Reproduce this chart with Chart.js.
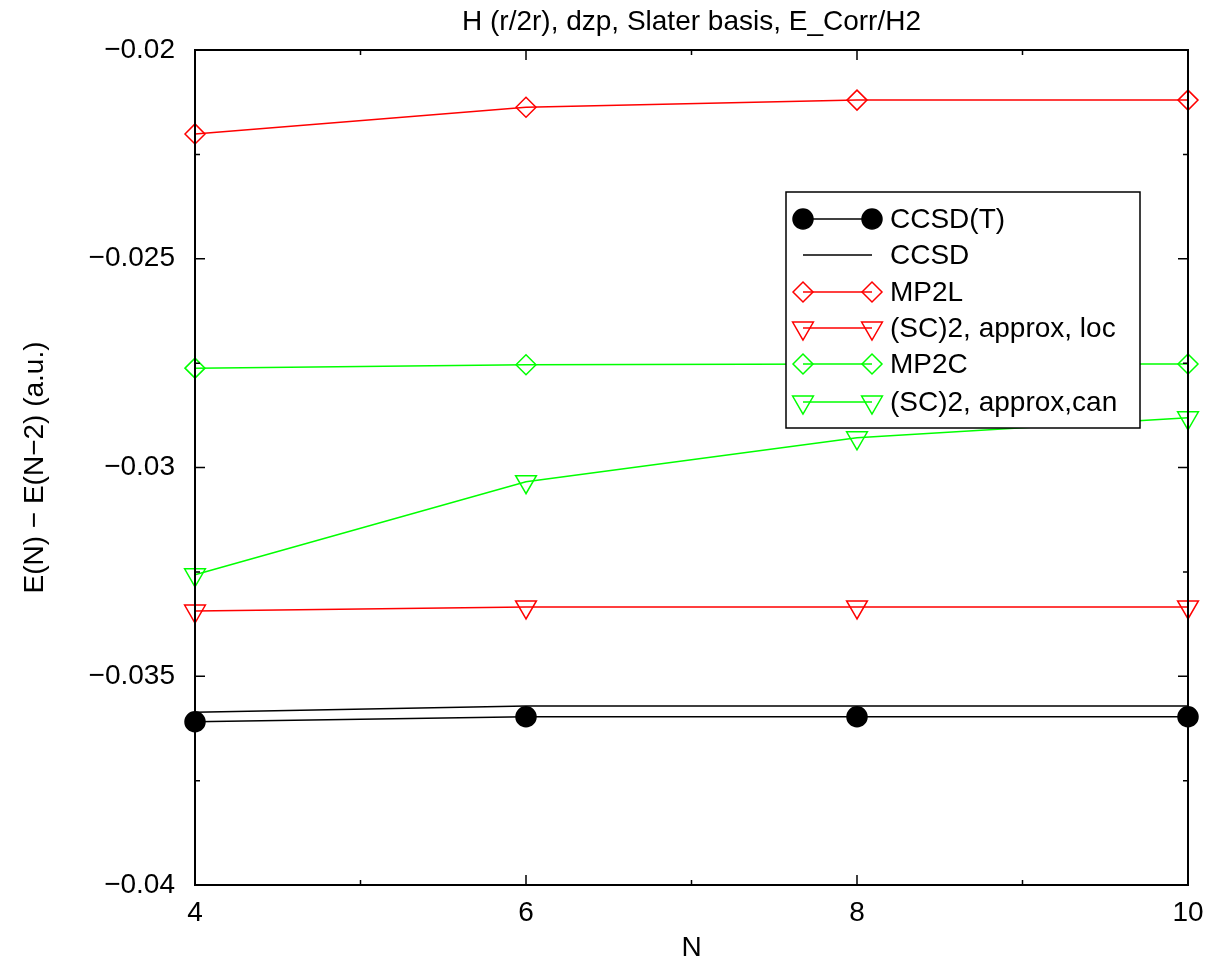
<!DOCTYPE html>
<html>
<head>
<meta charset="utf-8">
<title>H (r/2r), dzp, Slater basis, E_Corr/H2</title>
<script src="https://cdn.jsdelivr.net/npm/chart.js@4.4.1/dist/chart.umd.min.js"></script>
<style>
    html, body { margin: 0; padding: 0; background: #ffffff; }
    #energy-chart { display: block; }
</style>
</head>
<body>
<canvas id="energy-chart" width="1206" height="966"></canvas>
<script>
const n_values = [4, 6, 8, 10];

const ccsd_t   = [-0.03609, -0.03597, -0.03597, -0.03597];
const ccsd     = [-0.03586, -0.03571, -0.03571, -0.03571];
const mp2l     = [-0.02201, -0.02137, -0.02120, -0.02120];
const sc2_loc  = [-0.03344, -0.03334, -0.03334, -0.03334];
const mp2c     = [-0.02762, -0.02754, -0.02752, -0.02752];
const sc2_can  = [-0.03257, -0.03034, -0.02929, -0.02881];

const y_major_ticks = [-0.04, -0.035, -0.03, -0.025, -0.02];
const y_minor_ticks = [-0.0375, -0.0325, -0.0275, -0.0225];
const x_major_ticks = [4, 6, 8, 10];
const x_minor_ticks = [5, 7, 9];

const FONT = 'Liberation Sans, Arial, Helvetica, sans-serif';
const FONT_SIZE = 28;
const canvas = document.getElementById('energy-chart');


function to_points(values) {
    return values.map((v, i) => {
        return { x: n_values[i], y: v };
    });
}

function make_dataset(label, values, color, style, rotation, filled, radius) {
    return {
        label: label,
        data: to_points(values),
        borderColor: color,
        backgroundColor: color,
        borderWidth: 1.5,
        pointStyle: style,
        pointRotation: rotation,
        pointRadius: radius,
        pointBorderColor: color,
        pointBackgroundColor: filled ? color : 'rgba(0,0,0,0)',
        pointBorderWidth: 1.5,
        showLine: true,
        clip: false
    };
}

function format_minus(value) {
    let s = String(parseFloat(Number(value).toFixed(4)));
    return s.replace('-', '\u2212');
}


// gnuplot-like frame: box with inward ticks on all four sides, plus the boxed key
const frame_plugin = {
    id: 'frame',
    afterDatasetsDraw(chart) {
        const ctx = chart.ctx;
        const area = chart.chartArea;
        const xs = chart.scales.x;
        const ys = chart.scales.y;

        ctx.save();
        ctx.strokeStyle = '#000000';
        ctx.lineWidth = 1.5;

        x_major_ticks.concat(x_minor_ticks).forEach(t => {
            const len = x_major_ticks.includes(t) ? 10 : 5;
            const px = xs.getPixelForValue(t);
            ctx.beginPath();
            ctx.moveTo(px, area.bottom);
            ctx.lineTo(px, area.bottom - len);
            ctx.moveTo(px, area.top);
            ctx.lineTo(px, area.top + len);
            ctx.stroke();
        });

        y_major_ticks.concat(y_minor_ticks).forEach(t => {
            const len = y_major_ticks.includes(t) ? 10 : 5;
            const py = ys.getPixelForValue(t);
            ctx.beginPath();
            ctx.moveTo(area.left, py);
            ctx.lineTo(area.left + len, py);
            ctx.moveTo(area.right, py);
            ctx.lineTo(area.right - len, py);
            ctx.stroke();
        });

        ctx.lineWidth = 2;
        ctx.strokeRect(area.left, area.top, area.right - area.left, area.bottom - area.top);

        // key box
        const box_left = 786, box_top = 192, box_right = 1140, box_bottom = 428;
        ctx.fillStyle = '#ffffff';
        ctx.fillRect(box_left, box_top, box_right - box_left, box_bottom - box_top);
        ctx.lineWidth = 1.5;
        ctx.strokeStyle = '#000000';
        ctx.strokeRect(box_left, box_top, box_right - box_left, box_bottom - box_top);

        const row_y = [219, 255, 292, 328, 364, 402];
        const x0 = 803, x1 = 872;
        chart.data.datasets.forEach((ds, i) => {
            const y = row_y[i];
            ctx.strokeStyle = ds.borderColor;
            ctx.lineWidth = 1.5;
            ctx.beginPath();
            ctx.moveTo(x0, y);
            ctx.lineTo(x1, y);
            ctx.stroke();

            if (ds.pointRadius > 0) {
                const opts = {
                    pointStyle: ds.pointStyle,
                    radius: ds.pointRadius,
                    rotation: ds.pointRotation,
                    borderWidth: ds.pointBorderWidth
                };
                ctx.fillStyle = ds.pointBackgroundColor;
                ctx.strokeStyle = ds.pointBorderColor;
                Chart.helpers.drawPoint(ctx, opts, x0, y);
                Chart.helpers.drawPoint(ctx, opts, x1, y);
            }

            ctx.fillStyle = '#000000';
            ctx.font = FONT_SIZE + 'px ' + FONT;
            ctx.textAlign = 'left';
            ctx.textBaseline = 'middle';
            ctx.fillText(ds.label, 890, y + 1);
        });

        ctx.restore();
    }
};


const chart_datasets = [
    make_dataset('CCSD(T)', ccsd_t, '#000000', 'circle', 0, true, 10),
    make_dataset('CCSD', ccsd, '#000000', 'circle', 0, true, 0),
    make_dataset('MP2L', mp2l, '#ff0000', 'rectRot', 0, false, 10),
    make_dataset('(SC)2, approx, loc', sc2_loc, '#ff0000', 'triangle', 180, false, 12),
    make_dataset('MP2C', mp2c, '#00ff00', 'rectRot', 0, false, 10),
    make_dataset('(SC)2, approx,can', sc2_can, '#00ff00', 'triangle', 180, false, 12)
];

const chart = new Chart(canvas, {
    type: 'scatter',
    data: {
        datasets: chart_datasets
    },
    options: {
        responsive: false,
        animation: false,
        layout: {
            padding: { left: 0, right: 18, top: 0, bottom: 0 }
        },
        scales: {
            x: {
                type: 'linear',
                min: 4,
                max: 10,
                afterBuildTicks: (scale) => {
                    scale.ticks = x_major_ticks.map(v => ({ value: v }));
                },
                afterFit: (scale) => {
                    scale.height = 81;
                    scale.paddingLeft = 0;
                    scale.paddingRight = 0;
                },
                grid: { display: false, drawTicks: false },
                border: { display: false },
                ticks: {
                    padding: 11,
                    color: '#000000',
                    font: { family: FONT, size: FONT_SIZE },
                    maxRotation: 0
                },
                title: {
                    display: true,
                    text: 'N',
                    color: '#000000',
                    font: { family: FONT, size: FONT_SIZE },
                    padding: { top: 0, bottom: 1 }
                }
            },
            y: {
                type: 'linear',
                min: -0.04,
                max: -0.02,
                afterBuildTicks: (scale) => {
                    scale.ticks = y_major_ticks.map(v => ({ value: v }));
                },
                afterFit: (scale) => {
                    scale.width = 195;
                    scale.paddingTop = 0;
                    scale.paddingBottom = 0;
                },
                grid: { display: false, drawTicks: false },
                border: { display: false },
                ticks: {
                    padding: 20,
                    color: '#000000',
                    font: { family: FONT, size: FONT_SIZE },
                    callback: (value) => format_minus(value)
                },
                title: {
                    display: true,
                    text: 'E(N) \u2212 E(N\u22122) (a.u.)',
                    color: '#000000',
                    font: { family: FONT, size: FONT_SIZE },
                    padding: { top: 18, bottom: 0 }
                }
            }
        },
        plugins: {
            legend: { display: false },
            tooltip: { enabled: false },
            title: {
                display: true,
                fullSize: false,
                text: 'H (r/2r), dzp, Slater basis, E_Corr/H2',
                color: '#000000',
                font: { family: FONT, size: FONT_SIZE, weight: 'normal' },
                padding: { top: 5, bottom: 11.4 }
            }
        }
    },
    plugins: [frame_plugin]
});
</script>
</body>
</html>
